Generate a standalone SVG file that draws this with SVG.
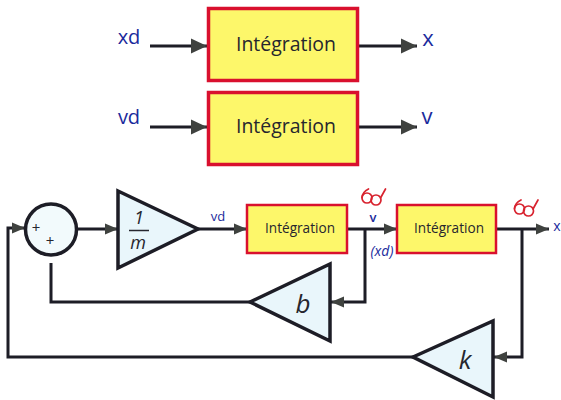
<svg xmlns="http://www.w3.org/2000/svg" width="561" height="400" viewBox="0 0 561 400">
<style>
.box{fill:#fdf76a;stroke:#d9102e}
.big{stroke-width:3.5}
.small{stroke-width:2.5}
.tri{fill:#e9f6fb;stroke:#1d1d26;stroke-width:3.5;stroke-linejoin:miter}
.line{fill:none;stroke:#1d1d26;stroke-width:3}
.t{font-family:"Open Sans","Noto Sans","Liberation Sans",sans-serif;fill:#26262e;text-anchor:middle}
.b{font-family:"Open Sans","Noto Sans","Liberation Sans",sans-serif;fill:#1a2a9c;text-anchor:middle}
.i{font-family:"Open Sans","Noto Sans","Liberation Sans",sans-serif;font-style:italic;fill:#26262e;text-anchor:middle}
.g{fill:none;stroke:#d8232f;stroke-width:1.7;stroke-linecap:round}
</style>
<defs>
<marker id="a" markerUnits="userSpaceOnUse" markerWidth="17" markerHeight="16" refX="16" refY="8" orient="auto">
<path d="M0 0.500L16 8L0 15.500Z" fill="#3f423f"/>
</marker>
<marker id="s" markerUnits="userSpaceOnUse" markerWidth="14" markerHeight="12" refX="13" refY="6" orient="auto">
<path d="M0 0.500L13 6L0 11.500Z" fill="#3f423f"/>
</marker>
<g id="glasses">
<circle cx="-4.500" cy="-1" r="5" class="g"/>
<circle cx="4.500" cy="1" r="5" class="g"/>
<path d="M-9.500 -1.500Q-9 -7 -3 -10M9 -1L14 -10" class="g"/>
</g>
</defs>
<g id="connectors">
<path class="line" d="M150 46H207" marker-end="url(#a)"/>
<path class="line" d="M359 46H417" marker-end="url(#a)"/>
<path class="line" d="M150 127H207" marker-end="url(#a)"/>
<path class="line" d="M359 127H417" marker-end="url(#a)"/>
<path class="line" d="M77 229H118" marker-end="url(#s)"/>
<path class="line" d="M198 229H247" marker-end="url(#s)"/>
<path class="line" d="M347 229H397" marker-end="url(#s)"/>
<path class="line" d="M496 229H549" marker-end="url(#s)"/>
<path class="line" d="M365 229V302H331" marker-end="url(#s)"/>
<path class="line" d="M522 229V357H494" marker-end="url(#s)"/>
<path class="line" d="M250 302H51V263"/>
<path class="line" d="M413 357H8V228H25" marker-end="url(#s)"/>
</g>
<g id="top-integration-1"><rect class="box big" x="208.500" y="8.500" width="149" height="72"/><text class="t" x="286" y="51" font-size="20" textLength="100" lengthAdjust="spacingAndGlyphs">Intégration</text></g>
<g id="top-integration-2"><rect class="box big" x="208.500" y="92.500" width="149" height="72"/><text class="t" x="286" y="133" font-size="20" textLength="100" lengthAdjust="spacingAndGlyphs">Intégration</text></g>
<g id="integration-1"><rect class="box small" x="247" y="205" width="100" height="48"/><text class="t" x="300" y="233" font-size="14" textLength="70" lengthAdjust="spacingAndGlyphs">Intégration</text></g>
<g id="integration-2"><rect class="box small" x="397" y="205" width="99" height="48"/><text class="t" x="449" y="233" font-size="14" textLength="70" lengthAdjust="spacingAndGlyphs">Intégration</text></g>
<g id="sum"><circle cx="51" cy="229.500" r="25.500" fill="#f2fafc" stroke="#1d1d26" stroke-width="3.500"/><text class="t" x="36" y="233" font-size="15">+</text><text class="t" x="50" y="246" font-size="15">+</text></g>
<g id="gain-m"><path class="tri" d="M118 191L198 229L118 268Z"/><text class="i" x="139" y="224" font-size="18">1</text><path d="M129 230.500H149" stroke="#26262e" stroke-width="1.500"/><text class="i" x="138" y="249" font-size="18">m</text></g>
<g id="gain-b"><path class="tri" d="M250 302L330 264V341Z"/><text class="i" x="303" y="313" font-size="26">b</text></g>
<g id="gain-k"><path class="tri" d="M413 357L493 321V397Z"/><text class="i" x="465" y="369" font-size="26">k</text></g>
<g id="labels">
<text class="b" x="129" y="44" font-size="20">xd</text>
<text class="b" x="428" y="46" font-size="22">x</text>
<text class="b" x="129" y="124" font-size="20">vd</text>
<text class="b" x="427" y="124" font-size="22">v</text>
<text class="b" x="218" y="221" font-size="13" font-weight="500">vd</text>
<text class="b" x="373" y="222" font-size="13" font-weight="600">v</text>
<text class="b" x="382" y="256" font-size="14" font-style="italic">(xd)</text>
<text class="b" x="557" y="231" font-size="14" font-weight="500">x</text>
</g>
<use href="#glasses" x="371.500" y="199"/>
<use href="#glasses" x="524" y="210"/>
</svg>
